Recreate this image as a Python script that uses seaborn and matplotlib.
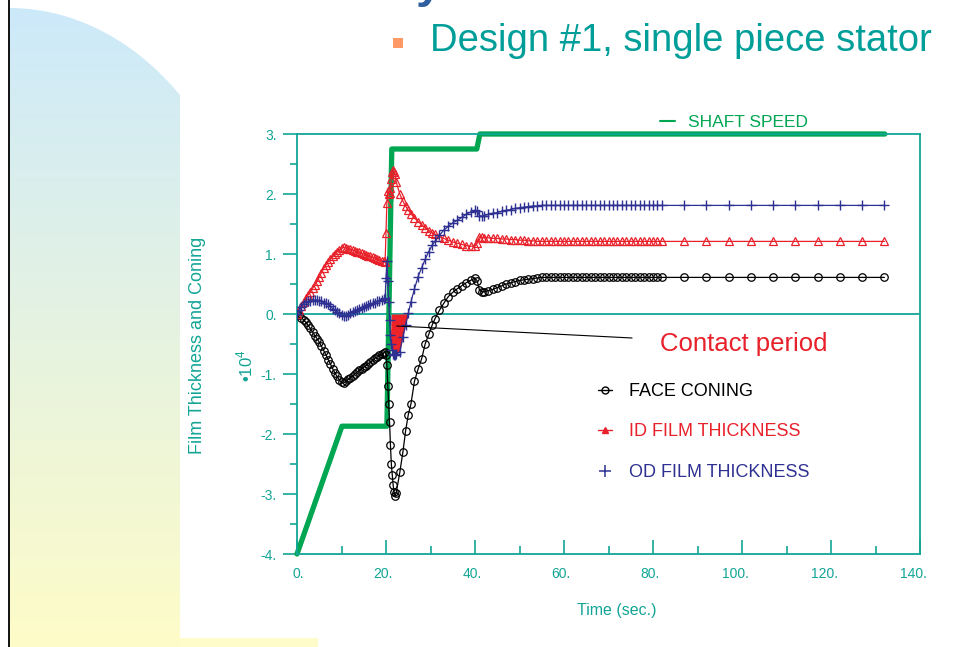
import numpy as np
import pandas as pd
import matplotlib
matplotlib.use("Agg")
import matplotlib.pyplot as plt
import seaborn as sns
from matplotlib.lines import Line2D
from matplotlib.patches import Rectangle, Polygon
from matplotlib.transforms import ScaledTranslation

# ---------------- data ----------------
TIME = ([0, 0.5, 1, 1.5, 2, 2.5, 3, 3.5, 4, 4.5, 5, 5.5, 6, 6.5, 7, 7.5, 8, 8.5, 9, 9.5,
         10, 10.5, 11, 11.5, 12, 12.5, 13, 13.5, 14, 14.5, 15, 15.5, 16, 16.5, 17, 17.5,
         18, 18.5, 19]
        + [19.5, 19.8, 20.0, 20.2, 20.4, 20.6, 20.8, 21.0, 21.2, 21.4,
           21.6, 21.8, 22.0, 22.3, 23.1, 23.8, 24.4, 25.0, 25.6, 26.4,
           27.2, 28.0, 28.8, 29.6, 30.4]
        + [31, 32, 33, 34, 35, 36, 37, 38, 39, 40, 40.5, 41, 41.5]
        + [42, 43, 44, 45, 46, 47, 48, 49, 50, 51, 52, 53, 54, 55,
           56, 57, 58, 59, 60, 61, 62, 63, 64, 65, 66, 67, 68, 69, 70,
           71, 72, 73, 74, 75, 76, 77, 78, 79, 80, 81, 82]
        + [87, 92, 97, 102, 107, 112, 117, 122, 127, 132])

FACE_CONING = ([0, -0.02, -0.06, -0.1, -0.14, -0.19, -0.24, -0.3, -0.36, -0.41,
                -0.47, -0.54, -0.61, -0.68, -0.76, -0.83, -0.91, -0.98, -1.04, -1.1,
                -1.14, -1.15, -1.12, -1.09, -1.06, -1.03, -1.0, -0.97, -0.94, -0.91,
                -0.89, -0.86, -0.83, -0.8, -0.77, -0.74, -0.72, -0.69, -0.67]
               + [-0.65, -0.63, -0.68, -0.85, -1.2, -1.5, -1.8, -2.19, -2.5, -2.68,
                  -2.85, -2.96, -3.04, -2.98, -2.64, -2.3, -1.95, -1.68, -1.5, -1.12,
                  -0.92, -0.75, -0.5, -0.34, -0.18]
               + [-0.08, 0.06, 0.18, 0.29, 0.36, 0.42, 0.47, 0.52, 0.56, 0.6, 0.55, 0.4, 0.37]
               + [0.37, 0.39, 0.41, 0.44, 0.47, 0.5, 0.52, 0.54, 0.56, 0.57, 0.58, 0.59, 0.6, 0.61,
                  0.61, 0.61, 0.61, 0.61, 0.61, 0.61, 0.61, 0.61, 0.61, 0.61, 0.61, 0.61, 0.61, 0.61,
                  0.61, 0.61, 0.61, 0.61, 0.61, 0.61, 0.61, 0.61, 0.61, 0.61, 0.61, 0.61, 0.61]
               + [0.61, 0.61, 0.61, 0.61, 0.61, 0.61, 0.61, 0.61, 0.61, 0.61])

ID_FILM = ([0, 0.07, 0.13, 0.2, 0.26, 0.32, 0.37, 0.43, 0.49, 0.55,
            0.62, 0.69, 0.76, 0.82, 0.87, 0.92, 0.96, 1.0, 1.04, 1.07,
            1.1, 1.11, 1.1, 1.09, 1.08, 1.07, 1.05, 1.04, 1.03, 1.01,
            1.0, 0.98, 0.97, 0.96, 0.95, 0.93, 0.92, 0.9, 0.89]
           + [0.88, 0.87, 1.35, 1.85, 2.05, 2.0, 2.02, 2.1, 2.25, 2.37,
              2.4, 2.37, 2.33, 2.2, 2.0, 1.88, 1.8, 1.73, 1.67, 1.6,
              1.54, 1.49, 1.44, 1.39, 1.35]
           + [1.33, 1.29, 1.26, 1.23, 1.2, 1.18, 1.16, 1.14, 1.13, 1.13, 1.18, 1.29, 1.28]
           + [1.27, 1.27, 1.26, 1.26, 1.25, 1.25, 1.24, 1.24, 1.23, 1.23, 1.22, 1.22, 1.21, 1.21,
              1.21, 1.21, 1.21, 1.21, 1.21, 1.21, 1.21, 1.21, 1.21, 1.21, 1.21, 1.21, 1.21, 1.21,
              1.21, 1.21, 1.21, 1.21, 1.21, 1.21, 1.21, 1.21, 1.21, 1.21, 1.21, 1.21, 1.21]
           + [1.21, 1.21, 1.21, 1.21, 1.21, 1.21, 1.21, 1.21, 1.21, 1.21])

OD_FILM = ([0, 0.07, 0.12, 0.17, 0.2, 0.21, 0.22, 0.23, 0.23, 0.23,
            0.22, 0.21, 0.19, 0.18, 0.16, 0.13, 0.09, 0.07, 0.04, 0.01,
            -0.02, -0.03, -0.03, -0.01, 0.01, 0.03, 0.05, 0.07, 0.09, 0.1,
            0.12, 0.13, 0.15, 0.16, 0.18, 0.19, 0.21, 0.22, 0.24]
           + [0.25, 0.26, 0.6, 0.88, 0.55, 0.2, -0.1, -0.35, -0.5, -0.6,
              -0.66, -0.68, -0.68, -0.67, -0.63, -0.38, -0.18, 0.01, 0.2, 0.42,
              0.62, 0.77, 0.91, 1.04, 1.15]
           + [1.21, 1.31, 1.4, 1.46, 1.52, 1.56, 1.61, 1.66, 1.7, 1.73, 1.72, 1.64, 1.63]
           + [1.64, 1.66, 1.68, 1.69, 1.71, 1.73, 1.74, 1.76, 1.77, 1.78, 1.79, 1.8, 1.8, 1.81,
              1.81, 1.81, 1.81, 1.81, 1.81, 1.81, 1.81, 1.81, 1.81, 1.81, 1.81, 1.81, 1.81, 1.81,
              1.81, 1.81, 1.81, 1.81, 1.81, 1.81, 1.81, 1.81, 1.81, 1.81, 1.81, 1.81, 1.81]
           + [1.81, 1.81, 1.81, 1.81, 1.81, 1.81, 1.81, 1.81, 1.81, 1.81])

SHAFT_TIME = [0, 10.1, 20.2, 21.3, 40.4, 41.1, 132.1]
SHAFT_SPEED = [-4.0, -1.87, -1.87, 2.75, 2.75, 3.0, 3.0]

CONTACT_START, CONTACT_END = 21.2, 25.0

X_TICKS = [0, 20, 40, 60, 80, 100, 120, 140]
X_LABELS = ["0.", "20.", "40.", "60.", "80.", "100.", "120.", "140."]
Y_TICKS = [-4, -3, -2, -1, 0, 1, 2, 3]
Y_LABELS = ["-4.", "-3.", "-2.", "-1.", "0.", "1.", "2.", "3."]

SERIES_NAMES = ["FACE CONING", "ID FILM THICKNESS", "OD FILM THICKNESS"]

# ---------------- style ----------------
sns.set_style("white")
plt.rcParams["font.family"] = ["Liberation Sans", "DejaVu Sans"]
plt.rcParams["mathtext.fontset"] = "custom"
plt.rcParams["mathtext.rm"] = "Liberation Sans"

TEAL = "#12a596"
GREEN = "#00a651"
RED = "#e8202a"
BLUE = "#2e3192"

W, H = 974, 647
fig = plt.figure(figsize=(9.74, 6.47), dpi=100)
fig.patch.set_facecolor("white")

# ---------------- slide background decoration ----------------
bg = fig.add_axes([0, 0, 1, 1], zorder=-10)
bg.set_xlim(0, W)
bg.set_ylim(H, 0)
bg.axis("off")
c_top = np.array([0.80, 0.914, 0.984])
c_bot = np.array([0.996, 0.988, 0.784])
n = 256
frac = np.linspace(0, 1, n)[:, None]
grad = (c_top[None, :] * (1 - frac) + c_bot[None, :] * frac)[:, None, :]
im = bg.imshow(grad, extent=(9, 180, H, 0), aspect="auto", interpolation="bilinear")
xs = np.linspace(9, 180, 80)
ys = 330 - 322 * np.sqrt(np.clip(1 - ((xs - 9) / 250.0) ** 2, 0, 1))
poly_pts = np.column_stack([np.r_[xs, 180, 9], np.r_[ys, H, H]])
clip = Polygon(poly_pts, closed=True, transform=bg.transData, facecolor="none", edgecolor="none")
bg.add_patch(clip)
im.set_clip_path(clip)
bg.add_patch(Rectangle((180, 638), 138, 9, color=c_bot, lw=0))
bg.axvline(8.5, color="black", lw=1.3)

# title fragment (cut by the slide's top edge, as in the source) + subtitle
fig.text(416 / W, 1 + 3 / H, "y", fontsize=34, color="#2f5f9f", fontweight="bold",
         ha="left", va="baseline")
fig.patches.append(Rectangle((393 / W, 1 - 48 / H), 10 / W, 10 / H,
                             transform=fig.transFigure, color="#ff9966", lw=0))
fig.text(430 / W, 1 - 51 / H, "Design #1, single piece stator", fontsize=27.5,
         color="#009e99", ha="left", va="baseline")

# ---------------- main axes ----------------
ax = fig.add_axes([297 / W, 1 - 554 / H, (920 - 297) / W, (554 - 134) / H])
ax.set_facecolor("none")

ax.axhline(0, color=TEAL, lw=1.3, zorder=1)

sns.lineplot(x=SHAFT_TIME, y=SHAFT_SPEED, ax=ax, color=GREEN, lw=3.8,
             estimator=None, zorder=2, clip_on=False)

t_arr = np.array(TIME)
od_arr = np.array(OD_FILM)
mask = (t_arr >= CONTACT_START) & (t_arr <= CONTACT_END) & (od_arr <= 0.02)
ax.fill_between(t_arr, od_arr, 0, where=mask, interpolate=True, color="#ee2229",
                lw=0, zorder=3)

df = pd.DataFrame({"time": TIME, "coning": FACE_CONING, "id": ID_FILM, "od": OD_FILM})
sns.lineplot(data=df, x="time", y="coning", ax=ax, color="black", lw=0.9,
             marker="o", markersize=5.4, markerfacecolor="none",
             markeredgecolor="black", markeredgewidth=0.9, estimator=None, zorder=4)
sns.lineplot(data=df, x="time", y="id", ax=ax, color=RED, lw=0.9,
             marker="^", markersize=5.4, markerfacecolor="none",
             markeredgecolor=RED, markeredgewidth=0.9, estimator=None, zorder=5)
sns.lineplot(data=df, x="time", y="od", ax=ax, color=BLUE, lw=0.9,
             marker="+", markersize=7.5, markeredgecolor=BLUE,
             markeredgewidth=1.0, estimator=None, zorder=6)

ax.annotate("", xy=(22.4, -0.2), xytext=(75.3, -0.4),
            arrowprops=dict(arrowstyle="-", color="black", lw=0.8, shrinkA=0, shrinkB=0),
            zorder=7)
ax.text(81.6, -0.5, "Contact period", color=RED, fontsize=18.5, ha="left", va="center")

ax.set_xlim(0, 140)
ax.set_ylim(-4, 3)
ax.set_xlabel("")
ax.set_ylabel("")
for s in ax.spines.values():
    s.set_color(TEAL)
    s.set_linewidth(1.3)
    s.set_visible(True)

ax.set_xticks(X_TICKS, labels=X_LABELS)
ax.set_xticks([10, 30, 50, 70, 90, 110, 130], minor=True)
ax.set_yticks(Y_TICKS, labels=Y_LABELS)
ax.set_yticks([-3.5, -2.5, -1.5, -0.5, 0.5, 1.5, 2.5], minor=True)
ax.tick_params(axis="x", which="major", direction="in", length=10, width=1.2,
               color=TEAL, labelcolor=TEAL, labelsize=10, pad=9, bottom=True, top=False)
ax.tick_params(axis="x", which="minor", direction="in", length=6, width=1.2,
               color=TEAL, bottom=True, top=False)
ax.tick_params(axis="y", which="major", direction="out", length=10, width=1.2,
               color=TEAL, labelcolor=TEAL, labelsize=10, pad=4.5, left=True, right=False)
ax.tick_params(axis="y", which="minor", direction="out", length=5, width=1.2,
               color=TEAL, left=True, right=False)
off = ScaledTranslation(5 / 72, 0, fig.dpi_scale_trans)
for lab in ax.get_xticklabels():
    lab.set_horizontalalignment("right")
    lab.set_transform(lab.get_transform() + off)

# axis titles
fig.text(197 / W, 1 - 345 / H, "Film Thickness and Coning", rotation=90, color=TEAL,
         fontsize=13, ha="center", va="center")
fig.text(245 / W, 1 - 366 / H, "\u2022" + "10$^{4}$", rotation=90, color=TEAL,
         fontsize=12, ha="center", va="center")
fig.text(617 / W, 1 - 610 / H, "Time (sec.)", color=TEAL, fontsize=11.5,
         ha="center", va="center")

# legends
handles = [
    Line2D([], [], color="black", lw=1, marker="o", markersize=5, markerfacecolor="none",
           markeredgecolor="black"),
    Line2D([], [], color=RED, lw=1, marker="^", markersize=5, markerfacecolor=RED,
           markeredgecolor=RED),
    Line2D([], [], color=BLUE, lw=0, marker="+", markersize=8, markeredgewidth=1.1),
]
leg = ax.legend(handles, SERIES_NAMES, loc="upper left",
                bbox_to_anchor=(598 / W, 1 - 383 / H), bbox_transform=fig.transFigure,
                frameon=False, fontsize=13, handlelength=0.8, handletextpad=0.9,
                labelspacing=1.3, borderpad=0, borderaxespad=0)
for txt, col in zip(leg.get_texts(), ["black", RED, BLUE]):
    txt.set_color(col)
ax.add_artist(leg)

leg2 = ax.legend([Line2D([], [], color=GREEN, lw=1.5)], ["SHAFT SPEED"], loc="upper left",
                 bbox_to_anchor=(660 / W, 1 - 115 / H), bbox_transform=fig.transFigure,
                 frameon=False, fontsize=12.5, handlelength=0.85, handletextpad=0.74,
                 borderpad=0, borderaxespad=0)
for txt in leg2.get_texts():
    txt.set_color(GREEN)

fig.savefig("out.png", dpi=100)
